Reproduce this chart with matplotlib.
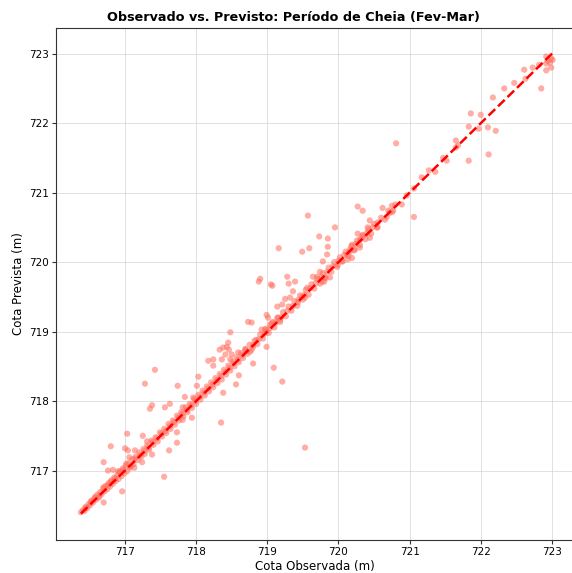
import matplotlib
matplotlib.use('Agg')
import matplotlib.pyplot as plt
import numpy as np

# pontos da faixa principal (perto da diagonal)
obs_faixa = [716.38, 716.41, 716.43, 716.45, 716.47, 716.49, 716.51, 716.53, 716.55, 716.57,
             716.59, 716.61, 716.63, 716.65, 716.67, 716.69, 716.71, 716.73, 716.75, 716.77,
             716.79, 716.81, 716.83, 716.85, 716.87, 716.89, 716.91, 716.93, 716.95, 716.97,
             716.99, 717.01, 717.03, 717.05, 717.08, 717.10, 717.12, 717.15, 717.18, 717.20,
             717.23, 717.26, 717.28, 717.31, 717.34, 717.37, 717.40, 717.43, 717.46, 717.49,
             717.52, 717.55, 717.58, 717.61, 717.64, 717.67, 717.70, 717.73, 717.76, 717.79,
             717.82, 717.85, 717.88, 717.91, 717.94, 717.97, 718.00, 718.03, 718.06, 718.09,
             718.12, 718.15, 718.18, 718.21, 718.24, 718.27, 718.30, 718.33, 718.36, 718.39,
             718.42, 718.45, 718.48, 718.51, 718.54, 718.57, 718.60, 718.63, 718.66, 718.69,
             718.72, 718.75, 718.78, 718.82, 718.86, 718.90, 718.94, 718.98, 719.02, 719.06,
             719.10, 719.14, 719.18, 719.22, 719.26, 719.30, 719.34, 719.38, 719.42, 719.46,
             719.50, 719.54, 719.58, 719.62, 719.66, 719.70, 719.74, 719.78, 719.82, 719.86,
             719.90, 719.94, 719.98, 720.02, 720.06, 720.10, 720.14, 720.18, 720.22, 720.26,
             720.30, 720.34, 720.38, 720.42, 720.46, 720.50, 720.55, 720.60, 720.65, 720.70,
             720.75, 720.80,
             716.44, 716.52, 716.58, 716.64, 716.70, 716.76, 716.80, 716.86, 716.92, 716.98,
             717.02, 717.07, 717.14, 717.21, 717.27, 717.33, 717.39, 717.45, 717.51, 717.57,
             717.63, 717.69, 717.75, 717.81, 717.87, 717.93, 717.99, 718.05, 718.11, 718.17,
             718.23, 718.29, 718.35, 718.41, 718.47, 718.53, 718.59, 718.65, 718.71, 718.80,
             718.88, 718.96, 719.04, 719.12, 719.20, 719.28, 719.36, 719.44, 719.52, 719.60,
             719.68, 719.76, 719.80, 719.84, 719.92, 720.00, 720.08, 720.16, 720.24, 720.32,
             720.40, 720.48]
prev_faixa = [716.40, 716.43, 716.42, 716.48, 716.46, 716.52, 716.50, 716.57, 716.54, 716.60,
              716.58, 716.65, 716.61, 716.69, 716.66, 716.74, 716.70, 716.78, 716.73, 716.82,
              716.77, 716.86, 716.81, 716.90, 716.85, 716.93, 716.88, 716.99, 716.92, 717.03,
              716.96, 717.07, 716.99, 717.10, 717.06, 717.16, 717.09, 717.20, 717.15, 717.26,
              717.20, 717.31, 717.24, 717.36, 717.30, 717.43, 717.37, 717.48, 717.42, 717.55,
              717.49, 717.60, 717.54, 717.67, 717.60, 717.72, 717.66, 717.79, 717.72, 717.84,
              717.78, 717.91, 717.84, 717.96, 717.90, 718.03, 717.96, 718.09, 718.02, 718.15,
              718.08, 718.21, 718.14, 718.27, 718.20, 718.33, 718.26, 718.39, 718.31, 718.45,
              718.38, 718.51, 718.44, 718.57, 718.50, 718.63, 718.56, 718.69, 718.62, 718.75,
              718.68, 718.81, 718.74, 718.87, 718.82, 718.96, 718.90, 719.04, 718.98, 719.12,
              719.06, 719.20, 719.14, 719.28, 719.22, 719.36, 719.30, 719.44, 719.37, 719.52,
              719.46, 719.60, 719.53, 719.68, 719.62, 719.76, 719.69, 719.84, 719.77, 719.92,
              719.86, 720.00, 719.93, 720.07, 720.01, 720.15, 720.09, 720.23, 720.17, 720.31,
              720.25, 720.39, 720.33, 720.47, 720.41, 720.55, 720.50, 720.64, 720.61, 720.74,
              720.72, 720.83,
              716.46, 716.55, 716.62, 716.63, 716.76, 716.79, 716.84, 716.88, 716.97, 717.01,
              717.10, 717.04, 717.17, 717.22, 717.28, 717.33, 717.41, 717.46, 717.53, 717.57,
              717.64, 717.70, 717.76, 717.82, 717.87, 717.94, 718.00, 718.06, 718.12, 718.18,
              718.24, 718.30, 718.36, 718.42, 718.48, 718.54, 718.60, 718.66, 718.72, 718.78,
              718.89, 718.97, 719.05, 719.13, 719.21, 719.30, 719.37, 719.46, 719.53, 719.62,
              719.70, 719.78, 719.72, 719.86, 719.94, 720.02, 720.10, 720.18, 720.26, 720.34,
              720.42, 720.50]

# pontos mais dispersos
obs_disp = [722.92, 722.94, 722.99, 723.01, 722.92, 722.97, 722.92, 722.99, 722.85, 722.73,
            722.82, 722.61, 722.63, 722.47, 722.33, 722.17, 721.86, 722.00, 721.83, 721.97,
            722.10, 722.21, 721.65, 721.68, 721.65, 722.11, 721.83, 721.52, 721.47, 720.81,
            721.36, 721.27, 721.17, 721.06, 720.96, 720.89, 721.06, 720.62, 720.75, 720.77,
            720.72, 720.68, 720.27, 720.34, 719.57, 719.95, 720.44, 720.55, 720.54, 720.41,
            720.27, 720.34, 720.44, 720.30, 720.19, 720.23, 720.30, 720.16, 720.12, 720.19,
            720.13, 719.73, 719.85, 719.85, 719.84, 719.16, 719.49, 719.59, 719.78, 720.05,
            719.99, 719.74, 719.70, 719.64, 719.88, 719.81, 719.77, 719.28, 719.30, 719.39,
            719.07, 719.36, 719.56, 719.49, 718.90, 719.25, 719.32, 719.14, 719.21, 719.43,
            719.53, 718.99, 719.01, 719.08, 719.18, 718.92, 718.99, 718.88, 719.05, 717.42,
            718.48, 718.73, 718.78, 718.99, 719.09, 719.21, 718.80, 718.60, 718.56, 718.38,
            718.35, 718.24, 718.17, 718.24, 718.03, 718.01, 717.74, 717.84, 717.96, 717.63,
            717.56, 717.81, 717.38, 717.35, 717.73, 717.94, 717.81, 717.28, 717.03, 717.25,
            717.31, 716.80, 717.00, 717.04, 717.14, 717.38, 717.06, 717.24, 717.55, 717.73,
            717.62, 716.70, 716.76, 716.83, 716.90, 716.96, 716.70, 717.13, 719.53,
            718.45, 718.43, 718.46, 718.38, 718.33, 718.41, 718.36, 718.50, 718.48, 718.59,
            718.69, 718.76, 718.80, 718.85, 718.97, 719.04, 719.15]
prev_disp = [722.96, 722.90, 722.93, 722.91, 722.86, 722.87, 722.76, 722.80, 722.50, 722.80,
             722.84, 722.77, 722.64, 722.58, 722.50, 722.37, 722.14, 722.12, 721.95, 721.92,
             721.94, 721.89, 721.75, 721.68, 721.65, 721.55, 721.46, 721.46, 721.50, 721.71,
             721.30, 721.32, 721.22, 721.06, 720.96, 720.83, 720.65, 720.78, 720.81, 720.74,
             720.71, 720.65, 720.80, 720.74, 720.67, 720.50, 720.60, 720.57, 720.50, 720.50,
             720.41, 720.38, 720.35, 720.32, 720.25, 720.18, 720.21, 720.15, 720.11, 720.06,
             720.04, 720.37, 720.34, 720.22, 720.11, 720.20, 720.15, 720.20, 720.01, 720.01,
             719.96, 719.86, 719.79, 719.79, 719.78, 719.78, 719.72, 719.79, 719.69, 719.72,
             719.66, 719.58, 719.63, 719.50, 719.76, 719.47, 719.49, 719.36, 719.39, 719.42,
             719.49, 719.24, 719.20, 719.14, 719.17, 719.03, 719.00, 719.72, 719.68, 718.45,
             718.99, 719.14, 719.13, 718.78, 718.48, 718.28, 718.54, 718.37, 718.24, 718.12,
             717.69, 718.60, 718.58, 718.51, 718.35, 718.22, 718.22, 718.06, 718.05, 717.96,
             717.91, 717.91, 717.94, 717.89, 717.55, 717.76, 717.73, 718.25, 717.53, 717.50,
             717.42, 717.35, 717.32, 717.29, 717.29, 717.23, 717.19, 717.12, 716.91, 717.40,
             717.29, 717.12, 717.00, 717.01, 716.99, 716.70, 716.54, 717.04, 717.33,
             718.84, 718.78, 718.74, 718.77, 718.74, 718.67, 718.60, 718.67, 718.60, 718.70,
             718.74, 718.71, 718.81, 718.88, 719.03, 719.10, 719.20]

observado = np.array(obs_faixa + obs_disp)
previsto = np.array(prev_faixa + prev_disp)

fig = plt.figure(figsize=(5.72, 5.73), dpi=100)
# o eixo passa um pouco da borda direita, como na imagem original (recortada)
ax = fig.add_axes([56/572, 33/573, 518/572, 512/573])

ax.scatter(observado, previsto, s=20, color='#ff6b5b', alpha=0.55, edgecolors='none', zorder=2)

lo = min(observado.min(), previsto.min())
hi = max(observado.max(), previsto.max())
ax.plot([lo, hi], [lo, hi], color='red', linestyle='--', linewidth=1.8, zorder=3)

ax.set_xlim(716.03, 723.31)
ax.set_ylim(716.0, 723.37)
ax.set_xticks(range(717, 724))
ax.set_yticks(range(717, 724))
ax.tick_params(labelsize=7.5, length=3, pad=2, color='#333333')
ax.grid(True, color='#cccccc', alpha=0.6, linewidth=0.7)
ax.set_axisbelow(True)
for s in ax.spines.values():
    s.set_color('#333333')

ax.set_xlabel('Cota Observada (m)', fontsize=8.5, labelpad=2)
ax.set_ylabel('Cota Prevista (m)', fontsize=8.5, labelpad=3)
ax.set_title('Observado vs. Previsto: Período de Cheia (Fev-Mar)', fontsize=9.2,
             fontweight='bold', x=0.4575, pad=5)

fig.savefig('out.png', dpi=100)
